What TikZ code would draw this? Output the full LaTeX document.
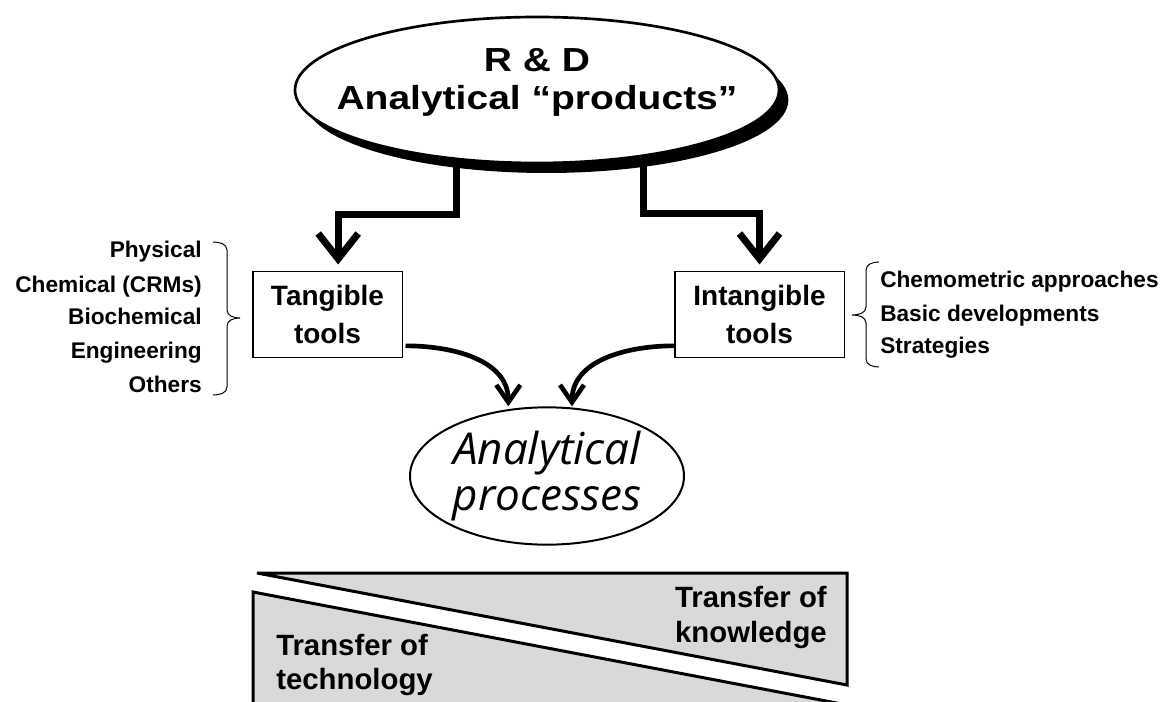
\documentclass[tikz,border=0pt]{standalone}
\usepackage{fontspec}
\setmainfont{Liberation Sans}
\newfontfamily\headfont[FakeStretch=1.17]{Liberation Sans}
\newfontfamily\procfont{Open Sans}
\usetikzlibrary{positioning,shapes.geometric,shadows,arrows.meta}

\begin{document}
\begin{tikzpicture}[x=0.75pt, y=0.75pt,
  toolbox/.style={draw, line width=1pt, minimum width=112pt, minimum height=64pt, align=center, font=\fontsize{21}{28.5}\selectfont\bfseries},
  listitem/.style={font=\fontsize{17}{20}\selectfont\bfseries, inner sep=0pt},
  bigarrow/.style={line width=5.25pt, -{Straight Barb[length=19pt, width=30pt]}, shorten >=5pt},
  curvearrow/.style={line width=3.5pt, -{Straight Barb[length=13pt, width=18pt]}},
  listbrace/.style={line width=0.75pt},
  transfer/.style={draw, line width=2.25pt, fill=black!15},
  transfertext/.style={font=\fontsize{22}{26}\selectfont\bfseries, inner sep=0pt}]
\useasboundingbox (0,0) rectangle (1167,-702);

% R & D
\node[draw, ellipse, line width=2pt, fill=white, minimum width=363pt, minimum height=109.5pt,
  drop shadow={shadow xshift=7pt, shadow yshift=-7.5pt, fill=black, opacity=1}] (rd) at (537,-90) {};
\node[font=\headfont\fontsize{25}{28.5}\selectfont\bfseries, align=center] (rdtext) at (537,-82) {R \& D\\Analytical “products”};

% tools
\node[toolbox] (tangible) at (327.5,-314.5) {Tangible\\tools};
\node[toolbox, minimum width=127pt] (intangible) at (759.5,-314.5) {Intangible\\tools};

\node[draw, ellipse, line width=1.5pt, minimum width=205.5pt, minimum height=103pt, inner sep=0pt, align=center,
  font=\procfont\itshape\fontsize{33}{35}\selectfont] (proc) at (547,-476) {Analytical\\processes};

\draw[bigarrow] (rd.221) -- ++(0,-54) -| ([xshift=8pt]tangible.north);
\draw[bigarrow] (rd.328) -- ++(0,-57) -| (intangible.north);

\draw[curvearrow] ([xshift=2pt, yshift=9pt]tangible.south east) to[out=0, in=90] ([xshift=-29pt]proc.north);
\draw[curvearrow] ([yshift=9pt]intangible.south west) to[out=180, in=90] ([xshift=18.75pt]proc.north);

% lists
\node[listitem, anchor=base east] (physical) at (202,-258) {Physical};
\node[listitem, anchor=base east] (chemical) at (202,-292) {Chemical (CRMs)};
\node[listitem, anchor=base east] (biochemical) at (202,-325) {Biochemical};
\node[listitem, anchor=base east] (engineering) at (202,-358) {Engineering};
\node[listitem, anchor=base east] (others) at (202,-392) {Others};
\draw[listbrace] (213,-242) to[out=0, in=90] (227,-250) -- (227,-310) to[out=-90, in=180] (240,-318)
  to[out=180, in=90] (227,-326) -- (227,-387) to[out=-90, in=0] (213,-395);

\node[listitem, anchor=base west] (chemometric) at (880,-288) {Chemometric approaches};
\node[listitem, anchor=base west] (basic) at (880,-321) {Basic developments};
\node[listitem, anchor=base west] (strategies) at (880,-353) {Strategies};
\draw[listbrace] (879,-262) to[out=180, in=90] (866,-270) -- (866,-307) to[out=-90, in=0] (852,-315)
  to[out=0, in=90] (866,-323) -- (866,-359) to[out=-90, in=180] (879,-367);

% transfer
\begin{scope}
\clip (0,0) rectangle (1167,-702);
\draw[transfer] (257,-573) -- (847,-573) -- (847,-685) -- cycle;
\draw[transfer] (253,-592) -- (847,-705) -- (847,-760) -- (253,-760) -- cycle;
\end{scope}
\node[transfertext, anchor=base east] (knowtop) at (827,-607) {Transfer of};
\node[transfertext, anchor=base east] (knowbot) at (827,-642) {knowledge};
\node[transfertext, anchor=base west] (techtop) at (276,-655) {Transfer of};
\node[transfertext, anchor=base west] (techbot) at (276,-689) {technology};

\end{tikzpicture}
\end{document}
